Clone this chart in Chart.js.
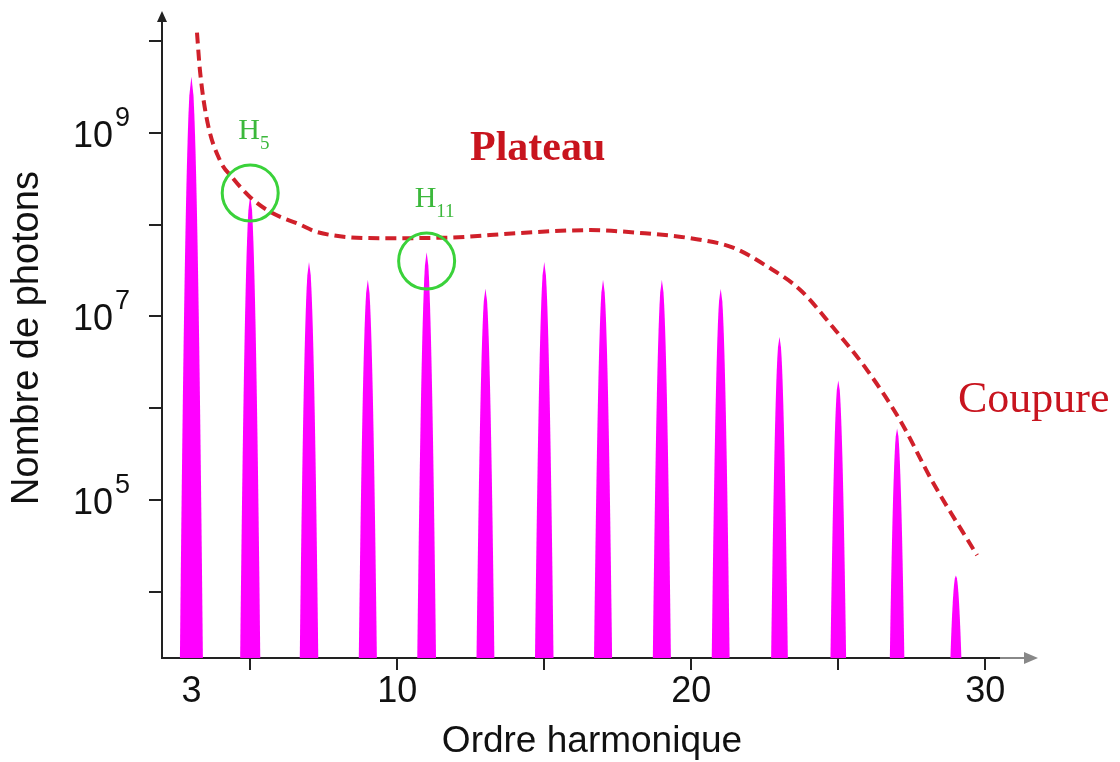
<!DOCTYPE html>
<html>
<head>
<meta charset="utf-8">
<script src="https://cdn.jsdelivr.net/npm/chart.js@4.4.0/dist/chart.umd.min.js"></script>
<style>
  html, body { margin: 0; padding: 0; background: #fff; }
  #wrap { width: 1120px; height: 762px; position: relative; }
</style>
</head>
<body>
<div id="wrap"><canvas id="chart"></canvas></div>
<script>
// harmonic spectrum (peak photon number per odd harmonic)
const harmonics = [3, 5, 7, 9, 11, 13, 15, 17, 19, 21, 23, 25, 27, 29];
const photons = [4.1e9, 2.1e8, 3.9e7, 2.5e7, 5.0e7, 2.0e7, 3.9e7, 2.5e7, 2.5e7, 2.0e7, 6.0e6, 2.0e6, 6.0e5, 1.5e4];

// dashed envelope (plateau + cutoff)
const envelopeX = [3.19, 3.29, 3.53, 3.97, 4.41, 4.99, 5.67, 6.69, 7.27, 9.41, 11.69, 14.18, 16.56, 18.26, 19.96, 21.42, 22.58, 23.70, 24.82, 25.98, 27.10, 28.22, 29.72];
const envelopeY = [1.23e10, 4.8e9, 1.38e9, 5.0e8, 3.2e8, 2.0e8, 1.38e8, 1.0e8, 8.3e7, 7.1e7, 7.2e7, 8.1e7, 8.7e7, 8.1e7, 7.1e7, 5.6e7, 3.5e7, 1.95e7, 7.6e6, 2.6e6, 7.4e5, 1.55e5, 2.5e4];

// circled harmonics
const circledX = [5, 11];
const circledY = [2.2e8, 4.0e7];
const circledSub = ['5', '11'];

// axis ticks
const xTicks = [3, 5, 10, 15, 20, 25, 30];
const xLabels = ['3', '', '10', '', '20', '', '30'];
const yTicks = [1e4, 1e5, 1e6, 1e7, 1e8, 1e9, 1e10];
const yLabelExps = [9, 7, 5];
const yMin = 1.9e3, yMax = 1.69e10;

const SANS = '"Liberation Sans", Arial, sans-serif';
const SERIF = '"Liberation Serif", "Times New Roman", serif';

const extras = {
  id: 'extras',
  beforeDatasetsDraw(chart) {
    // spikes
    const ctx = chart.ctx;
    const bottom = chart.chartArea.bottom;
    ctx.save();
    ctx.fillStyle = '#ff00ff';
    chart.getDatasetMeta(0).data.forEach(bar => {
      const x = bar.x, y = bar.y;
      const h = bottom - y;
      const w = 9 + 0.024 * h;
      ctx.beginPath();
      ctx.moveTo(x, y);
      for (let i = 1; i <= 30; i++) {
        const t = i / 30;
        ctx.lineTo(x + w / 2 * Math.sqrt(t), y + h * t);
      }
      for (let i = 30; i >= 0; i--) {
        const t = i / 30;
        ctx.lineTo(x - w / 2 * Math.sqrt(t), y + h * t);
      }
      ctx.closePath();
      ctx.fill();
    });
    ctx.restore();
  },
  afterDraw(chart) {
    const ctx = chart.ctx;
    const {left, right, top, bottom} = chart.chartArea;
    const xs = chart.scales.x, ys = chart.scales.y;
    ctx.save();

    // y axis arrow head
    ctx.fillStyle = '#222';
    ctx.beginPath();
    ctx.moveTo(left, 11);
    ctx.lineTo(left - 5, 22);
    ctx.lineTo(left + 5, 22);
    ctx.closePath();
    ctx.fill();
    if (top > 20) ctx.fillRect(left - 1, 20, 2, top - 20 + 1);

    // x axis grey extension + arrow head
    ctx.strokeStyle = '#888';
    ctx.fillStyle = '#888';
    ctx.lineWidth = 2;
    ctx.beginPath();
    ctx.moveTo(right, bottom);
    ctx.lineTo(right + 26, bottom);
    ctx.stroke();
    ctx.beginPath();
    ctx.moveTo(right + 38, bottom);
    ctx.lineTo(right + 24, bottom - 6);
    ctx.lineTo(right + 24, bottom + 6);
    ctx.closePath();
    ctx.fill();

    // y tick labels 10^n
    ctx.fillStyle = '#111';
    yLabelExps.forEach(e => {
      const y = ys.getPixelForValue(Math.pow(10, e));
      ctx.font = '36px ' + SANS;
      ctx.textAlign = 'right';
      ctx.textBaseline = 'alphabetic';
      ctx.fillText('10', 113, y + 14);
      ctx.font = '27px ' + SANS;
      ctx.textAlign = 'left';
      ctx.fillText(String(e), 115, y - 7);
    });

    // axis titles
    ctx.textBaseline = 'middle';
    ctx.textAlign = 'center';
    ctx.font = '37px ' + SANS;
    ctx.fillText('Ordre harmonique', 592, 742);
    ctx.save();
    ctx.translate(28, 338);
    ctx.rotate(-Math.PI / 2);
    ctx.font = '38px ' + SANS;
    ctx.fillText('Nombre de photons', 0, 0);
    ctx.restore();

    // H labels over circles
    ctx.textBaseline = 'alphabetic';
    ctx.fillStyle = '#3cb83c';
    circledX.forEach((hx, i) => {
      const cx = xs.getPixelForValue(hx);
      const cy = ys.getPixelForValue(circledY[i]);
      ctx.textAlign = 'left';
      ctx.font = '30px ' + SERIF;
      ctx.fillText('H', cx - 12, cy - 54);
      const w = ctx.measureText('H').width;
      ctx.font = '19px ' + SERIF;
      ctx.fillText(circledSub[i], cx - 12 + w, cy - 44);
    });

    // region labels
    ctx.textAlign = 'left';
    ctx.fillStyle = '#c8141e';
    ctx.font = 'bold 42px ' + SERIF;
    ctx.fillText('Plateau', 470, 160);
    ctx.font = '44px ' + SERIF;
    ctx.fillText('Coupure', 958, 412);

    ctx.restore();
  }
};

new Chart(document.getElementById('chart'), {
  data: {
    datasets: [
      {
        type: 'bar',
        label: 'Harmoniques',
        data: harmonics.map((h, i) => ({x: h, y: photons[i]})),
        backgroundColor: 'rgba(0,0,0,0)',
        borderWidth: 0,
        order: 3
      },
      {
        type: 'line',
        label: 'Enveloppe',
        data: envelopeX.map((x, i) => ({x: x, y: envelopeY[i]})),
        borderColor: '#d0202a',
        borderWidth: 4,
        borderDash: [11, 6],
        pointRadius: 0,
        fill: false,
        cubicInterpolationMode: 'monotone',
        order: 2
      },
      {
        type: 'scatter',
        label: 'Cercles',
        data: circledX.map((x, i) => ({x: x, y: circledY[i]})),
        pointRadius: 28,
        pointStyle: 'circle',
        borderColor: '#3ad23a',
        borderWidth: 3,
        backgroundColor: 'rgba(0,0,0,0)',
        clip: false,
        order: 1
      }
    ]
  },
  options: {
    responsive: true,
    maintainAspectRatio: false,
    animation: false,
    devicePixelRatio: 1,
    layout: { autoPadding: false, padding: { top: 20, left: 0, right: 120, bottom: 0 } },
    plugins: { legend: { display: false }, tooltip: { enabled: false } },
    scales: {
      x: {
        type: 'linear',
        min: 2,
        max: 30.5,
        offset: false,
        afterFit(s) { s.height = 104; s.paddingLeft = 0; s.paddingRight = 0; },
        afterBuildTicks(s) { s.ticks = xTicks.map(v => ({value: v})); },
        border: { color: '#222', width: 2 },
        grid: {
          offset: false,
          drawOnChartArea: false,
          tickLength: 12,
          lineWidth: 2,
          color: c => (c.tick && c.tick.value === 3) ? 'rgba(0,0,0,0)' : '#222'
        },
        ticks: {
          autoSkip: false,
          maxRotation: 0,
          padding: 0,
          color: '#111',
          font: { family: SANS, size: 36 },
          callback: (v, i) => xLabels[i]
        },
        title: { display: false }
      },
      y: {
        type: 'logarithmic',
        min: yMin,
        max: yMax,
        afterFit(s) { s.width = 162; s.paddingTop = 0; s.paddingBottom = 0; },
        afterBuildTicks(s) {
          s.ticks = yTicks.map(v => ({value: v}));
          s.min = yMin;
          s.max = yMax;
        },
        border: { color: '#222', width: 2 },
        grid: { drawOnChartArea: false, tickLength: 13, lineWidth: 2, color: '#222' },
        ticks: { display: false },
        title: { display: false }
      }
    }
  },
  plugins: [extras]
});
</script>
</body>
</html>
